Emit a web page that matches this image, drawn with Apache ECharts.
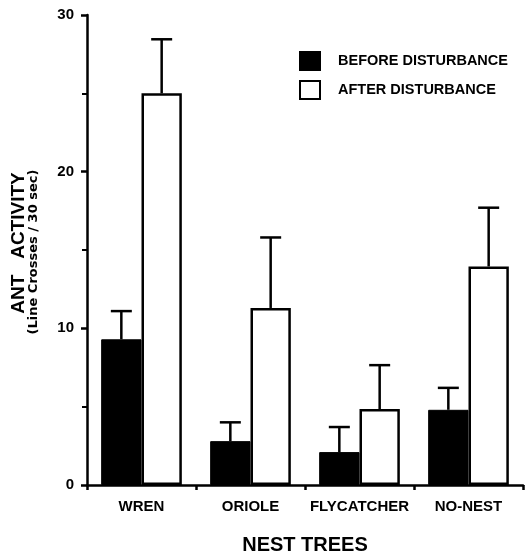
<!DOCTYPE html>
<html>
<head>
<meta charset="utf-8">
<script src="https://cdn.jsdelivr.net/npm/echarts@6/dist/echarts.min.js"></script>
<style>
    html, body {margin: 0; padding: 0; background: #fff;}
    #chartBox {width: 526px; height: 554px;}
</style>
</head>
<body>
<div id="chartBox"></div>
<script>
/**
 * 蚁群活动 柱状图
 */
var categories = ['WREN', 'ORIOLE', 'FLYCATCHER', 'NO-NEST'];
var beforeValues = [9.3, 2.8, 2.1, 4.8];
var beforeErrTop = [11.1, 4.0, 3.7, 6.2];
var afterValues = [25.0, 11.3, 4.85, 13.95];
var afterErrTop = [28.45, 15.8, 7.65, 17.7];
var yTicks = [0, 10, 20, 30];

(function(){
    var _font = '"Liberation Sans", Arial, Helvetica, sans-serif',
        _wide = '"DejaVu Sans", "Liberation Sans", Arial, sans-serif',
        _barPct = 0.37,
        _chart;

    //误差线
    function errorSeries(name, means, tops, side){
        return {
            name: name + ' err',
            type: 'custom',
            z: 1,
            silent: true,
            data: (function(){
                var _list = [];
                for(var i = 0; i < means.length; i++){
                    _list.push([i, means[i], tops[i]]);
                }
                return _list;
            })(),
            renderItem: function(params, api){
                var _w = api.size([1, 0])[0] * _barPct,
                    _p0 = api.coord([api.value(0), api.value(1)]),
                    _p1 = api.coord([api.value(0), api.value(2)]),
                    _x = _p0[0] + side * _w / 2,
                    _cap = 10.5,
                    _style = {stroke: '#000', lineWidth: 2.5};
                return {
                    type: 'group',
                    children: [
                        {type: 'line', shape: {x1: _x, y1: _p0[1], x2: _x, y2: _p1[1]}, style: _style},
                        {type: 'line', shape: {x1: _x - _cap, y1: _p1[1], x2: _x + _cap, y2: _p1[1]}, style: _style}
                    ]
                };
            }
        };
    }

    function getParams(){
        return {
            animation: false,
            textStyle: {fontFamily: _font, color: '#000'},
            grid: {left: 87, right: 3, top: 15, bottom: 69, containLabel: false, outerBoundsMode: 'none'},
            legend: {
                orient: 'vertical',
                left: 299,
                top: 51,
                padding: 0,
                itemWidth: 20,
                itemHeight: 18,
                itemGap: 9,
                icon: 'rect',
                data: ['BEFORE DISTURBANCE', 'AFTER DISTURBANCE'],
                textStyle: {fontFamily: _font, fontSize: 14.5, fontWeight: 'bold', color: '#000', padding: [0, 0, 0, 13]}
            },
            xAxis: {
                type: 'category',
                data: categories,
                name: 'NEST TREES',
                nameLocation: 'middle',
                nameGap: 50,
                nameTextStyle: {fontFamily: _font, fontSize: 20, fontWeight: 'bold', color: '#000'},
                axisLine: {lineStyle: {color: '#000', width: 2.5}},
                axisTick: {show: true, length: 5, lineStyle: {color: '#000', width: 2.5}},
                axisLabel: {interval: 0, fontFamily: _font, fontSize: 15, fontWeight: 'bold', color: '#000', margin: 14}
            },
            yAxis: {
                type: 'value',
                min: yTicks[0],
                max: yTicks[yTicks.length - 1],
                interval: yTicks[1] - yTicks[0],
                axisLine: {show: true, lineStyle: {color: '#000', width: 2.5}},
                axisTick: {show: true, length: 6, lineStyle: {color: '#000', width: 2.5}},
                minorTick: {show: true, splitNumber: 2, length: 5, lineStyle: {color: '#000', width: 2}},
                splitLine: {show: false},
                axisLabel: {fontFamily: _font, fontSize: 15, fontWeight: 'bold', color: '#000', margin: 13}
            },
            graphic: [
                {
                    type: 'text', x: 19, y: 243, rotation: Math.PI / 2,
                    style: {text: 'ANT   ACTIVITY', font: 'bold 19px ' + _font, fill: '#000', align: 'center', verticalAlign: 'middle'}
                },
                {
                    type: 'text', x: 34, y: 252, rotation: Math.PI / 2,
                    style: {text: '(Line Crosses / 30 sec)', font: 'bold 13px ' + _wide, fill: '#000', align: 'center', verticalAlign: 'middle'}
                }
            ],
            series: [
                {
                    name: 'BEFORE DISTURBANCE',
                    type: 'bar',
                    data: beforeValues,
                    barWidth: (_barPct * 100) + '%',
                    barGap: '0%',
                    z: 2,
                    itemStyle: {color: '#000', borderColor: '#000', borderWidth: 1}
                },
                {
                    name: 'AFTER DISTURBANCE',
                    type: 'bar',
                    data: afterValues,
                    barWidth: (_barPct * 100) + '%',
                    barGap: '0%',
                    z: 2,
                    itemStyle: {color: '#fff', borderColor: '#000', borderWidth: 2.5}
                },
                errorSeries('BEFORE DISTURBANCE', beforeValues, beforeErrTop, -1),
                errorSeries('AFTER DISTURBANCE', afterValues, afterErrTop, 1)
            ]
        };
    }

    _chart = echarts.init(document.getElementById('chartBox'));
    _chart.setOption(getParams());
})();
</script>
</body>
</html>
